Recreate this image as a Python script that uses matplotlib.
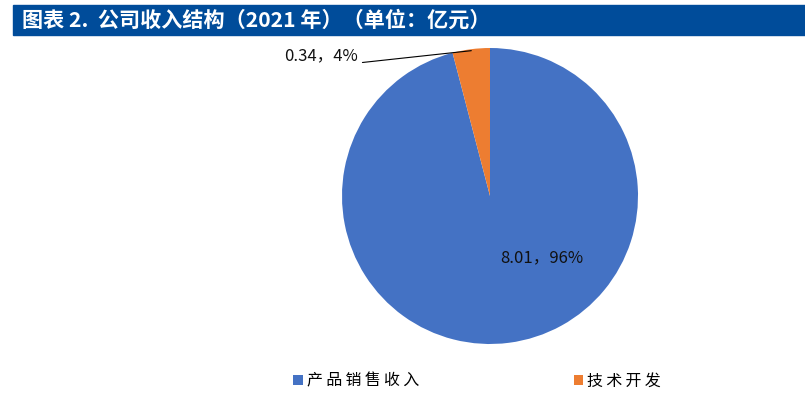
import numpy as np
import matplotlib

matplotlib.use("Agg")
import matplotlib.pyplot as plt
from matplotlib.patches import Rectangle

plt.rcParams["font.family"] = ["Noto Sans CJK SC", "DejaVu Sans"]

# --- data -----------------------------------------------------------------
categories = ["产品销售收入", "技术开发"]
values = [8.01, 0.34]
shares = ["96%", "4%"]
colors = ["#4472C4", "#ED7D31"]
title = "图表 2.  公司收入结构（2021 年）（单位：亿元）"

W, H = 805, 399
fig = plt.figure(figsize=(W / 100, H / 100), dpi=100)

# title bar
fig.patches.append(Rectangle((13 / W, 1 - 35 / H), 1 - 13 / W, 30 / H,
                             transform=fig.transFigure, color="#004C9A", zorder=0))
fig.text(22 / W, 1 - 20 / H, title, color="white", fontsize=15.2,
         fontweight="bold", va="center", ha="left")

# pie axes: centre (490,196), radius 148 px
cx, cy, r = 490, 196, 148
ax = fig.add_axes([(cx - r) / W, 1 - (cy + r) / H, 2 * r / W, 2 * r / H])
wedges, _ = ax.pie(values, colors=colors, startangle=90, counterclock=False,
                   radius=1.0, wedgeprops=dict(linewidth=0))
ax.set_xlim(-1, 1)
ax.set_ylim(-1, 1)
ax.set_aspect("equal")
ax.axis("off")

# inside label for big slice
ax.text(0.35, -0.42, f"{values[0]:.2f}，{shares[0]}", fontsize=12,
        ha="center", va="center", color="#111111")

# outside label with leader line for small slice
w = wedges[1]
mid = np.deg2rad((w.theta1 + w.theta2) / 2)
ax.annotate(f"{values[1]:.2f}，{shares[1]}",
            xy=(0.99 * np.cos(mid), 0.99 * np.sin(mid)),
            xytext=(-0.89, 0.945), fontsize=12, ha="right", va="center",
            color="#111111", annotation_clip=False,
            arrowprops=dict(arrowstyle="-", color="black", lw=0.8,
                            shrinkA=1, shrinkB=0,
                            relpos=(1.0, 0.1)))

# legend (thin spaces mimic the wide letter spacing of the original)
spaced = ["\u2009".join(c) for c in categories]
fig.legend(wedges, spaced, loc="center", ncol=2, frameon=False,
           bbox_to_anchor=(477 / W, 1 - 381 / H), fontsize=11.5,
           handlelength=0.6, handleheight=0.6, handletextpad=0.25,
           columnspacing=9.7)

fig.savefig("out.png", dpi=100)
